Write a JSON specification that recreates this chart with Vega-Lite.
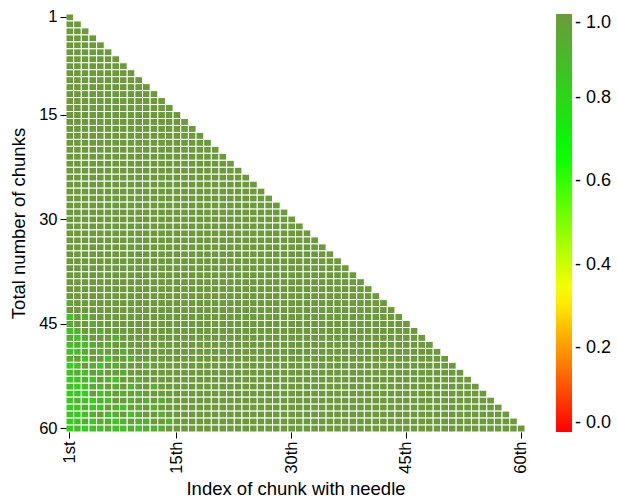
{
"$schema": "https://vega.github.io/schema/vega-lite/v6.json",
"width": 459, "height": 418,
"autosize": {"type": "none"},
"padding": {"left": 66, "top": 14, "right": 93, "bottom": 70},
"background": "white",
"config": {"view": {"stroke": null}, "font": "Liberation Sans",
 "axis": {"labelFont": "Liberation Sans", "titleFont": "Liberation Sans", "labelColor": "black", "titleColor": "black", "tickColor": "black", "labelFontSize": 16.5, "titleFontSize": 18.5, "titleFontWeight": "normal", "domain": false, "grid": false, "tickSize": 6},
 "legend": {"labelFont": "Liberation Sans", "labelColor": "black", "labelFontSize": 18}},
"data": {"values": [
{"t":1,"i":1,"v":1},
{"t":2,"i":1,"v":1},{"t":2,"i":2,"v":1},
{"t":3,"i":1,"v":1},{"t":3,"i":2,"v":1},{"t":3,"i":3,"v":1},
{"t":4,"i":1,"v":1},{"t":4,"i":2,"v":1},{"t":4,"i":3,"v":1},{"t":4,"i":4,"v":1},
{"t":5,"i":1,"v":1},{"t":5,"i":2,"v":1},{"t":5,"i":3,"v":1},{"t":5,"i":4,"v":1},{"t":5,"i":5,"v":1},
{"t":6,"i":1,"v":1},{"t":6,"i":2,"v":1},{"t":6,"i":3,"v":1},{"t":6,"i":4,"v":1},{"t":6,"i":5,"v":1},{"t":6,"i":6,"v":1},
{"t":7,"i":1,"v":1},{"t":7,"i":2,"v":1},{"t":7,"i":3,"v":1},{"t":7,"i":4,"v":1},{"t":7,"i":5,"v":1},{"t":7,"i":6,"v":1},{"t":7,"i":7,"v":1},
{"t":8,"i":1,"v":1},{"t":8,"i":2,"v":1},{"t":8,"i":3,"v":1},{"t":8,"i":4,"v":1},{"t":8,"i":5,"v":1},{"t":8,"i":6,"v":1},{"t":8,"i":7,"v":1},{"t":8,"i":8,"v":1},
{"t":9,"i":1,"v":1},{"t":9,"i":2,"v":1},{"t":9,"i":3,"v":1},{"t":9,"i":4,"v":1},{"t":9,"i":5,"v":1},{"t":9,"i":6,"v":1},{"t":9,"i":7,"v":1},{"t":9,"i":8,"v":1},{"t":9,"i":9,"v":1},
{"t":10,"i":1,"v":1},{"t":10,"i":2,"v":1},{"t":10,"i":3,"v":1},{"t":10,"i":4,"v":1},{"t":10,"i":5,"v":1},{"t":10,"i":6,"v":1},{"t":10,"i":7,"v":1},{"t":10,"i":8,"v":1},{"t":10,"i":9,"v":1},{"t":10,"i":10,"v":1},
{"t":11,"i":1,"v":1},{"t":11,"i":2,"v":1},{"t":11,"i":3,"v":1},{"t":11,"i":4,"v":1},{"t":11,"i":5,"v":1},{"t":11,"i":6,"v":1},{"t":11,"i":7,"v":1},{"t":11,"i":8,"v":1},{"t":11,"i":9,"v":1},{"t":11,"i":10,"v":1},{"t":11,"i":11,"v":1},
{"t":12,"i":1,"v":1},{"t":12,"i":2,"v":1},{"t":12,"i":3,"v":1},{"t":12,"i":4,"v":1},{"t":12,"i":5,"v":1},{"t":12,"i":6,"v":1},{"t":12,"i":7,"v":1},{"t":12,"i":8,"v":1},{"t":12,"i":9,"v":1},{"t":12,"i":10,"v":1},{"t":12,"i":11,"v":1},{"t":12,"i":12,"v":1},
{"t":13,"i":1,"v":1},{"t":13,"i":2,"v":1},{"t":13,"i":3,"v":1},{"t":13,"i":4,"v":1},{"t":13,"i":5,"v":1},{"t":13,"i":6,"v":1},{"t":13,"i":7,"v":1},{"t":13,"i":8,"v":1},{"t":13,"i":9,"v":1},{"t":13,"i":10,"v":1},{"t":13,"i":11,"v":1},{"t":13,"i":12,"v":1},{"t":13,"i":13,"v":1},
{"t":14,"i":1,"v":1},{"t":14,"i":2,"v":1},{"t":14,"i":3,"v":1},{"t":14,"i":4,"v":1},{"t":14,"i":5,"v":1},{"t":14,"i":6,"v":1},{"t":14,"i":7,"v":1},{"t":14,"i":8,"v":1},{"t":14,"i":9,"v":1},{"t":14,"i":10,"v":1},{"t":14,"i":11,"v":1},{"t":14,"i":12,"v":1},{"t":14,"i":13,"v":1},{"t":14,"i":14,"v":1},
{"t":15,"i":1,"v":1},{"t":15,"i":2,"v":1},{"t":15,"i":3,"v":1},{"t":15,"i":4,"v":1},{"t":15,"i":5,"v":1},{"t":15,"i":6,"v":1},{"t":15,"i":7,"v":1},{"t":15,"i":8,"v":1},{"t":15,"i":9,"v":1},{"t":15,"i":10,"v":1},{"t":15,"i":11,"v":1},{"t":15,"i":12,"v":1},{"t":15,"i":13,"v":1},{"t":15,"i":14,"v":1},{"t":15,"i":15,"v":1},
{"t":16,"i":1,"v":1},{"t":16,"i":2,"v":1},{"t":16,"i":3,"v":1},{"t":16,"i":4,"v":1},{"t":16,"i":5,"v":1},{"t":16,"i":6,"v":1},{"t":16,"i":7,"v":1},{"t":16,"i":8,"v":1},{"t":16,"i":9,"v":1},{"t":16,"i":10,"v":1},{"t":16,"i":11,"v":1},{"t":16,"i":12,"v":1},{"t":16,"i":13,"v":1},{"t":16,"i":14,"v":1},{"t":16,"i":15,"v":1},{"t":16,"i":16,"v":1},
{"t":17,"i":1,"v":1},{"t":17,"i":2,"v":1},{"t":17,"i":3,"v":1},{"t":17,"i":4,"v":1},{"t":17,"i":5,"v":1},{"t":17,"i":6,"v":1},{"t":17,"i":7,"v":1},{"t":17,"i":8,"v":1},{"t":17,"i":9,"v":1},{"t":17,"i":10,"v":1},{"t":17,"i":11,"v":1},{"t":17,"i":12,"v":1},{"t":17,"i":13,"v":1},{"t":17,"i":14,"v":1},{"t":17,"i":15,"v":1},{"t":17,"i":16,"v":1},{"t":17,"i":17,"v":1},
{"t":18,"i":1,"v":1},{"t":18,"i":2,"v":1},{"t":18,"i":3,"v":1},{"t":18,"i":4,"v":1},{"t":18,"i":5,"v":1},{"t":18,"i":6,"v":1},{"t":18,"i":7,"v":1},{"t":18,"i":8,"v":1},{"t":18,"i":9,"v":1},{"t":18,"i":10,"v":1},{"t":18,"i":11,"v":1},{"t":18,"i":12,"v":1},{"t":18,"i":13,"v":1},{"t":18,"i":14,"v":1},{"t":18,"i":15,"v":1},{"t":18,"i":16,"v":1},{"t":18,"i":17,"v":1},{"t":18,"i":18,"v":1},
{"t":19,"i":1,"v":1},{"t":19,"i":2,"v":1},{"t":19,"i":3,"v":1},{"t":19,"i":4,"v":1},{"t":19,"i":5,"v":1},{"t":19,"i":6,"v":1},{"t":19,"i":7,"v":1},{"t":19,"i":8,"v":1},{"t":19,"i":9,"v":1},{"t":19,"i":10,"v":1},{"t":19,"i":11,"v":1},{"t":19,"i":12,"v":1},{"t":19,"i":13,"v":1},{"t":19,"i":14,"v":1},{"t":19,"i":15,"v":1},{"t":19,"i":16,"v":1},{"t":19,"i":17,"v":1},{"t":19,"i":18,"v":1},{"t":19,"i":19,"v":1},
{"t":20,"i":1,"v":1},{"t":20,"i":2,"v":1},{"t":20,"i":3,"v":1},{"t":20,"i":4,"v":1},{"t":20,"i":5,"v":1},{"t":20,"i":6,"v":1},{"t":20,"i":7,"v":1},{"t":20,"i":8,"v":1},{"t":20,"i":9,"v":1},{"t":20,"i":10,"v":1},{"t":20,"i":11,"v":1},{"t":20,"i":12,"v":1},{"t":20,"i":13,"v":1},{"t":20,"i":14,"v":1},{"t":20,"i":15,"v":1},{"t":20,"i":16,"v":1},{"t":20,"i":17,"v":1},{"t":20,"i":18,"v":1},{"t":20,"i":19,"v":1},{"t":20,"i":20,"v":1},
{"t":21,"i":1,"v":1},{"t":21,"i":2,"v":1},{"t":21,"i":3,"v":1},{"t":21,"i":4,"v":1},{"t":21,"i":5,"v":1},{"t":21,"i":6,"v":1},{"t":21,"i":7,"v":1},{"t":21,"i":8,"v":1},{"t":21,"i":9,"v":1},{"t":21,"i":10,"v":1},{"t":21,"i":11,"v":1},{"t":21,"i":12,"v":1},{"t":21,"i":13,"v":1},{"t":21,"i":14,"v":1},{"t":21,"i":15,"v":1},{"t":21,"i":16,"v":1},{"t":21,"i":17,"v":1},{"t":21,"i":18,"v":1},{"t":21,"i":19,"v":1},{"t":21,"i":20,"v":1},{"t":21,"i":21,"v":1},
{"t":22,"i":1,"v":1},{"t":22,"i":2,"v":1},{"t":22,"i":3,"v":1},{"t":22,"i":4,"v":1},{"t":22,"i":5,"v":1},{"t":22,"i":6,"v":1},{"t":22,"i":7,"v":1},{"t":22,"i":8,"v":1},{"t":22,"i":9,"v":1},{"t":22,"i":10,"v":1},{"t":22,"i":11,"v":1},{"t":22,"i":12,"v":1},{"t":22,"i":13,"v":1},{"t":22,"i":14,"v":1},{"t":22,"i":15,"v":1},{"t":22,"i":16,"v":1},{"t":22,"i":17,"v":1},{"t":22,"i":18,"v":1},{"t":22,"i":19,"v":1},{"t":22,"i":20,"v":1},{"t":22,"i":21,"v":1},{"t":22,"i":22,"v":1},
{"t":23,"i":1,"v":1},{"t":23,"i":2,"v":1},{"t":23,"i":3,"v":1},{"t":23,"i":4,"v":1},{"t":23,"i":5,"v":1},{"t":23,"i":6,"v":1},{"t":23,"i":7,"v":1},{"t":23,"i":8,"v":1},{"t":23,"i":9,"v":1},{"t":23,"i":10,"v":1},{"t":23,"i":11,"v":1},{"t":23,"i":12,"v":1},{"t":23,"i":13,"v":1},{"t":23,"i":14,"v":1},{"t":23,"i":15,"v":1},{"t":23,"i":16,"v":1},{"t":23,"i":17,"v":1},{"t":23,"i":18,"v":1},{"t":23,"i":19,"v":1},{"t":23,"i":20,"v":1},{"t":23,"i":21,"v":1},{"t":23,"i":22,"v":1},{"t":23,"i":23,"v":1},
{"t":24,"i":1,"v":1},{"t":24,"i":2,"v":1},{"t":24,"i":3,"v":1},{"t":24,"i":4,"v":1},{"t":24,"i":5,"v":1},{"t":24,"i":6,"v":1},{"t":24,"i":7,"v":1},{"t":24,"i":8,"v":1},{"t":24,"i":9,"v":1},{"t":24,"i":10,"v":1},{"t":24,"i":11,"v":1},{"t":24,"i":12,"v":1},{"t":24,"i":13,"v":1},{"t":24,"i":14,"v":1},{"t":24,"i":15,"v":1},{"t":24,"i":16,"v":1},{"t":24,"i":17,"v":1},{"t":24,"i":18,"v":1},{"t":24,"i":19,"v":1},{"t":24,"i":20,"v":1},{"t":24,"i":21,"v":1},{"t":24,"i":22,"v":1},{"t":24,"i":23,"v":1},{"t":24,"i":24,"v":1},
{"t":25,"i":1,"v":1},{"t":25,"i":2,"v":1},{"t":25,"i":3,"v":1},{"t":25,"i":4,"v":1},{"t":25,"i":5,"v":1},{"t":25,"i":6,"v":1},{"t":25,"i":7,"v":1},{"t":25,"i":8,"v":1},{"t":25,"i":9,"v":1},{"t":25,"i":10,"v":1},{"t":25,"i":11,"v":1},{"t":25,"i":12,"v":1},{"t":25,"i":13,"v":1},{"t":25,"i":14,"v":1},{"t":25,"i":15,"v":1},{"t":25,"i":16,"v":1},{"t":25,"i":17,"v":1},{"t":25,"i":18,"v":1},{"t":25,"i":19,"v":1},{"t":25,"i":20,"v":1},{"t":25,"i":21,"v":1},{"t":25,"i":22,"v":1},{"t":25,"i":23,"v":1},{"t":25,"i":24,"v":1},{"t":25,"i":25,"v":1},
{"t":26,"i":1,"v":1},{"t":26,"i":2,"v":1},{"t":26,"i":3,"v":1},{"t":26,"i":4,"v":1},{"t":26,"i":5,"v":1},{"t":26,"i":6,"v":1},{"t":26,"i":7,"v":1},{"t":26,"i":8,"v":1},{"t":26,"i":9,"v":1},{"t":26,"i":10,"v":1},{"t":26,"i":11,"v":1},{"t":26,"i":12,"v":1},{"t":26,"i":13,"v":1},{"t":26,"i":14,"v":1},{"t":26,"i":15,"v":1},{"t":26,"i":16,"v":1},{"t":26,"i":17,"v":1},{"t":26,"i":18,"v":1},{"t":26,"i":19,"v":1},{"t":26,"i":20,"v":1},{"t":26,"i":21,"v":1},{"t":26,"i":22,"v":1},{"t":26,"i":23,"v":1},{"t":26,"i":24,"v":1},{"t":26,"i":25,"v":1},{"t":26,"i":26,"v":1},
{"t":27,"i":1,"v":1},{"t":27,"i":2,"v":1},{"t":27,"i":3,"v":1},{"t":27,"i":4,"v":1},{"t":27,"i":5,"v":1},{"t":27,"i":6,"v":1},{"t":27,"i":7,"v":1},{"t":27,"i":8,"v":1},{"t":27,"i":9,"v":1},{"t":27,"i":10,"v":1},{"t":27,"i":11,"v":1},{"t":27,"i":12,"v":1},{"t":27,"i":13,"v":1},{"t":27,"i":14,"v":1},{"t":27,"i":15,"v":1},{"t":27,"i":16,"v":1},{"t":27,"i":17,"v":1},{"t":27,"i":18,"v":1},{"t":27,"i":19,"v":1},{"t":27,"i":20,"v":1},{"t":27,"i":21,"v":1},{"t":27,"i":22,"v":1},{"t":27,"i":23,"v":1},{"t":27,"i":24,"v":1},{"t":27,"i":25,"v":1},{"t":27,"i":26,"v":1},{"t":27,"i":27,"v":1},
{"t":28,"i":1,"v":1},{"t":28,"i":2,"v":1},{"t":28,"i":3,"v":1},{"t":28,"i":4,"v":1},{"t":28,"i":5,"v":1},{"t":28,"i":6,"v":1},{"t":28,"i":7,"v":1},{"t":28,"i":8,"v":1},{"t":28,"i":9,"v":1},{"t":28,"i":10,"v":1},{"t":28,"i":11,"v":1},{"t":28,"i":12,"v":1},{"t":28,"i":13,"v":1},{"t":28,"i":14,"v":1},{"t":28,"i":15,"v":1},{"t":28,"i":16,"v":1},{"t":28,"i":17,"v":1},{"t":28,"i":18,"v":1},{"t":28,"i":19,"v":1},{"t":28,"i":20,"v":1},{"t":28,"i":21,"v":1},{"t":28,"i":22,"v":1},{"t":28,"i":23,"v":1},{"t":28,"i":24,"v":1},{"t":28,"i":25,"v":1},{"t":28,"i":26,"v":1},{"t":28,"i":27,"v":1},{"t":28,"i":28,"v":1},
{"t":29,"i":1,"v":1},{"t":29,"i":2,"v":1},{"t":29,"i":3,"v":1},{"t":29,"i":4,"v":1},{"t":29,"i":5,"v":1},{"t":29,"i":6,"v":1},{"t":29,"i":7,"v":1},{"t":29,"i":8,"v":1},{"t":29,"i":9,"v":1},{"t":29,"i":10,"v":1},{"t":29,"i":11,"v":1},{"t":29,"i":12,"v":1},{"t":29,"i":13,"v":1},{"t":29,"i":14,"v":1},{"t":29,"i":15,"v":1},{"t":29,"i":16,"v":1},{"t":29,"i":17,"v":1},{"t":29,"i":18,"v":1},{"t":29,"i":19,"v":1},{"t":29,"i":20,"v":1},{"t":29,"i":21,"v":1},{"t":29,"i":22,"v":1},{"t":29,"i":23,"v":1},{"t":29,"i":24,"v":1},{"t":29,"i":25,"v":1},{"t":29,"i":26,"v":1},{"t":29,"i":27,"v":1},{"t":29,"i":28,"v":1},{"t":29,"i":29,"v":1},
{"t":30,"i":1,"v":1},{"t":30,"i":2,"v":1},{"t":30,"i":3,"v":1},{"t":30,"i":4,"v":1},{"t":30,"i":5,"v":1},{"t":30,"i":6,"v":1},{"t":30,"i":7,"v":1},{"t":30,"i":8,"v":1},{"t":30,"i":9,"v":1},{"t":30,"i":10,"v":1},{"t":30,"i":11,"v":1},{"t":30,"i":12,"v":1},{"t":30,"i":13,"v":1},{"t":30,"i":14,"v":1},{"t":30,"i":15,"v":1},{"t":30,"i":16,"v":1},{"t":30,"i":17,"v":1},{"t":30,"i":18,"v":1},{"t":30,"i":19,"v":1},{"t":30,"i":20,"v":1},{"t":30,"i":21,"v":1},{"t":30,"i":22,"v":1},{"t":30,"i":23,"v":1},{"t":30,"i":24,"v":1},{"t":30,"i":25,"v":1},{"t":30,"i":26,"v":1},{"t":30,"i":27,"v":1},{"t":30,"i":28,"v":1},{"t":30,"i":29,"v":1},{"t":30,"i":30,"v":1},
{"t":31,"i":1,"v":1},{"t":31,"i":2,"v":1},{"t":31,"i":3,"v":1},{"t":31,"i":4,"v":1},{"t":31,"i":5,"v":1},{"t":31,"i":6,"v":1},{"t":31,"i":7,"v":1},{"t":31,"i":8,"v":1},{"t":31,"i":9,"v":1},{"t":31,"i":10,"v":1},{"t":31,"i":11,"v":1},{"t":31,"i":12,"v":1},{"t":31,"i":13,"v":1},{"t":31,"i":14,"v":1},{"t":31,"i":15,"v":1},{"t":31,"i":16,"v":1},{"t":31,"i":17,"v":1},{"t":31,"i":18,"v":1},{"t":31,"i":19,"v":1},{"t":31,"i":20,"v":1},{"t":31,"i":21,"v":1},{"t":31,"i":22,"v":1},{"t":31,"i":23,"v":1},{"t":31,"i":24,"v":1},{"t":31,"i":25,"v":1},{"t":31,"i":26,"v":1},{"t":31,"i":27,"v":1},{"t":31,"i":28,"v":1},{"t":31,"i":29,"v":1},{"t":31,"i":30,"v":1},{"t":31,"i":31,"v":1},
{"t":32,"i":1,"v":1},{"t":32,"i":2,"v":1},{"t":32,"i":3,"v":1},{"t":32,"i":4,"v":1},{"t":32,"i":5,"v":1},{"t":32,"i":6,"v":1},{"t":32,"i":7,"v":1},{"t":32,"i":8,"v":1},{"t":32,"i":9,"v":1},{"t":32,"i":10,"v":1},{"t":32,"i":11,"v":1},{"t":32,"i":12,"v":1},{"t":32,"i":13,"v":1},{"t":32,"i":14,"v":1},{"t":32,"i":15,"v":1},{"t":32,"i":16,"v":1},{"t":32,"i":17,"v":1},{"t":32,"i":18,"v":1},{"t":32,"i":19,"v":1},{"t":32,"i":20,"v":1},{"t":32,"i":21,"v":1},{"t":32,"i":22,"v":1},{"t":32,"i":23,"v":1},{"t":32,"i":24,"v":1},{"t":32,"i":25,"v":1},{"t":32,"i":26,"v":1},{"t":32,"i":27,"v":1},{"t":32,"i":28,"v":1},{"t":32,"i":29,"v":1},{"t":32,"i":30,"v":1},{"t":32,"i":31,"v":1},{"t":32,"i":32,"v":1},
{"t":33,"i":1,"v":1},{"t":33,"i":2,"v":1},{"t":33,"i":3,"v":1},{"t":33,"i":4,"v":1},{"t":33,"i":5,"v":1},{"t":33,"i":6,"v":1},{"t":33,"i":7,"v":1},{"t":33,"i":8,"v":1},{"t":33,"i":9,"v":1},{"t":33,"i":10,"v":1},{"t":33,"i":11,"v":1},{"t":33,"i":12,"v":1},{"t":33,"i":13,"v":1},{"t":33,"i":14,"v":1},{"t":33,"i":15,"v":1},{"t":33,"i":16,"v":1},{"t":33,"i":17,"v":1},{"t":33,"i":18,"v":1},{"t":33,"i":19,"v":1},{"t":33,"i":20,"v":1},{"t":33,"i":21,"v":1},{"t":33,"i":22,"v":1},{"t":33,"i":23,"v":1},{"t":33,"i":24,"v":1},{"t":33,"i":25,"v":1},{"t":33,"i":26,"v":1},{"t":33,"i":27,"v":1},{"t":33,"i":28,"v":1},{"t":33,"i":29,"v":1},{"t":33,"i":30,"v":1},{"t":33,"i":31,"v":1},{"t":33,"i":32,"v":1},{"t":33,"i":33,"v":1},
{"t":34,"i":1,"v":1},{"t":34,"i":2,"v":1},{"t":34,"i":3,"v":1},{"t":34,"i":4,"v":1},{"t":34,"i":5,"v":1},{"t":34,"i":6,"v":1},{"t":34,"i":7,"v":1},{"t":34,"i":8,"v":1},{"t":34,"i":9,"v":1},{"t":34,"i":10,"v":1},{"t":34,"i":11,"v":1},{"t":34,"i":12,"v":1},{"t":34,"i":13,"v":1},{"t":34,"i":14,"v":1},{"t":34,"i":15,"v":1},{"t":34,"i":16,"v":1},{"t":34,"i":17,"v":1},{"t":34,"i":18,"v":1},{"t":34,"i":19,"v":1},{"t":34,"i":20,"v":1},{"t":34,"i":21,"v":1},{"t":34,"i":22,"v":1},{"t":34,"i":23,"v":1},{"t":34,"i":24,"v":1},{"t":34,"i":25,"v":1},{"t":34,"i":26,"v":1},{"t":34,"i":27,"v":1},{"t":34,"i":28,"v":1},{"t":34,"i":29,"v":1},{"t":34,"i":30,"v":1},{"t":34,"i":31,"v":1},{"t":34,"i":32,"v":1},{"t":34,"i":33,"v":1},{"t":34,"i":34,"v":1},
{"t":35,"i":1,"v":1},{"t":35,"i":2,"v":1},{"t":35,"i":3,"v":1},{"t":35,"i":4,"v":1},{"t":35,"i":5,"v":1},{"t":35,"i":6,"v":1},{"t":35,"i":7,"v":1},{"t":35,"i":8,"v":1},{"t":35,"i":9,"v":1},{"t":35,"i":10,"v":1},{"t":35,"i":11,"v":1},{"t":35,"i":12,"v":1},{"t":35,"i":13,"v":1},{"t":35,"i":14,"v":1},{"t":35,"i":15,"v":1},{"t":35,"i":16,"v":1},{"t":35,"i":17,"v":1},{"t":35,"i":18,"v":1},{"t":35,"i":19,"v":1},{"t":35,"i":20,"v":1},{"t":35,"i":21,"v":1},{"t":35,"i":22,"v":1},{"t":35,"i":23,"v":1},{"t":35,"i":24,"v":1},{"t":35,"i":25,"v":1},{"t":35,"i":26,"v":1},{"t":35,"i":27,"v":1},{"t":35,"i":28,"v":1},{"t":35,"i":29,"v":1},{"t":35,"i":30,"v":1},{"t":35,"i":31,"v":1},{"t":35,"i":32,"v":1},{"t":35,"i":33,"v":1},{"t":35,"i":34,"v":1},{"t":35,"i":35,"v":1},
{"t":36,"i":1,"v":1},{"t":36,"i":2,"v":1},{"t":36,"i":3,"v":1},{"t":36,"i":4,"v":1},{"t":36,"i":5,"v":1},{"t":36,"i":6,"v":1},{"t":36,"i":7,"v":1},{"t":36,"i":8,"v":1},{"t":36,"i":9,"v":1},{"t":36,"i":10,"v":1},{"t":36,"i":11,"v":1},{"t":36,"i":12,"v":1},{"t":36,"i":13,"v":1},{"t":36,"i":14,"v":1},{"t":36,"i":15,"v":1},{"t":36,"i":16,"v":1},{"t":36,"i":17,"v":1},{"t":36,"i":18,"v":1},{"t":36,"i":19,"v":1},{"t":36,"i":20,"v":1},{"t":36,"i":21,"v":1},{"t":36,"i":22,"v":1},{"t":36,"i":23,"v":1},{"t":36,"i":24,"v":1},{"t":36,"i":25,"v":1},{"t":36,"i":26,"v":1},{"t":36,"i":27,"v":1},{"t":36,"i":28,"v":1},{"t":36,"i":29,"v":1},{"t":36,"i":30,"v":1},{"t":36,"i":31,"v":1},{"t":36,"i":32,"v":1},{"t":36,"i":33,"v":1},{"t":36,"i":34,"v":1},{"t":36,"i":35,"v":1},{"t":36,"i":36,"v":1},
{"t":37,"i":1,"v":1},{"t":37,"i":2,"v":1},{"t":37,"i":3,"v":1},{"t":37,"i":4,"v":1},{"t":37,"i":5,"v":1},{"t":37,"i":6,"v":1},{"t":37,"i":7,"v":1},{"t":37,"i":8,"v":1},{"t":37,"i":9,"v":1},{"t":37,"i":10,"v":1},{"t":37,"i":11,"v":1},{"t":37,"i":12,"v":1},{"t":37,"i":13,"v":1},{"t":37,"i":14,"v":1},{"t":37,"i":15,"v":1},{"t":37,"i":16,"v":1},{"t":37,"i":17,"v":1},{"t":37,"i":18,"v":1},{"t":37,"i":19,"v":1},{"t":37,"i":20,"v":1},{"t":37,"i":21,"v":1},{"t":37,"i":22,"v":1},{"t":37,"i":23,"v":1},{"t":37,"i":24,"v":1},{"t":37,"i":25,"v":1},{"t":37,"i":26,"v":1},{"t":37,"i":27,"v":1},{"t":37,"i":28,"v":1},{"t":37,"i":29,"v":1},{"t":37,"i":30,"v":1},{"t":37,"i":31,"v":1},{"t":37,"i":32,"v":1},{"t":37,"i":33,"v":1},{"t":37,"i":34,"v":1},{"t":37,"i":35,"v":1},{"t":37,"i":36,"v":1},{"t":37,"i":37,"v":1},
{"t":38,"i":1,"v":1},{"t":38,"i":2,"v":1},{"t":38,"i":3,"v":1},{"t":38,"i":4,"v":1},{"t":38,"i":5,"v":1},{"t":38,"i":6,"v":1},{"t":38,"i":7,"v":1},{"t":38,"i":8,"v":1},{"t":38,"i":9,"v":1},{"t":38,"i":10,"v":1},{"t":38,"i":11,"v":1},{"t":38,"i":12,"v":1},{"t":38,"i":13,"v":1},{"t":38,"i":14,"v":1},{"t":38,"i":15,"v":1},{"t":38,"i":16,"v":1},{"t":38,"i":17,"v":1},{"t":38,"i":18,"v":1},{"t":38,"i":19,"v":1},{"t":38,"i":20,"v":1},{"t":38,"i":21,"v":1},{"t":38,"i":22,"v":1},{"t":38,"i":23,"v":1},{"t":38,"i":24,"v":1},{"t":38,"i":25,"v":1},{"t":38,"i":26,"v":1},{"t":38,"i":27,"v":1},{"t":38,"i":28,"v":1},{"t":38,"i":29,"v":1},{"t":38,"i":30,"v":1},{"t":38,"i":31,"v":1},{"t":38,"i":32,"v":1},{"t":38,"i":33,"v":1},{"t":38,"i":34,"v":1},{"t":38,"i":35,"v":1},{"t":38,"i":36,"v":1},{"t":38,"i":37,"v":1},{"t":38,"i":38,"v":1},
{"t":39,"i":1,"v":1},{"t":39,"i":2,"v":1},{"t":39,"i":3,"v":1},{"t":39,"i":4,"v":1},{"t":39,"i":5,"v":1},{"t":39,"i":6,"v":1},{"t":39,"i":7,"v":1},{"t":39,"i":8,"v":1},{"t":39,"i":9,"v":1},{"t":39,"i":10,"v":1},{"t":39,"i":11,"v":1},{"t":39,"i":12,"v":1},{"t":39,"i":13,"v":1},{"t":39,"i":14,"v":1},{"t":39,"i":15,"v":1},{"t":39,"i":16,"v":1},{"t":39,"i":17,"v":1},{"t":39,"i":18,"v":1},{"t":39,"i":19,"v":1},{"t":39,"i":20,"v":1},{"t":39,"i":21,"v":1},{"t":39,"i":22,"v":1},{"t":39,"i":23,"v":1},{"t":39,"i":24,"v":1},{"t":39,"i":25,"v":1},{"t":39,"i":26,"v":1},{"t":39,"i":27,"v":1},{"t":39,"i":28,"v":1},{"t":39,"i":29,"v":1},{"t":39,"i":30,"v":1},{"t":39,"i":31,"v":1},{"t":39,"i":32,"v":1},{"t":39,"i":33,"v":1},{"t":39,"i":34,"v":1},{"t":39,"i":35,"v":1},{"t":39,"i":36,"v":1},{"t":39,"i":37,"v":1},{"t":39,"i":38,"v":1},{"t":39,"i":39,"v":1},
{"t":40,"i":1,"v":1},{"t":40,"i":2,"v":1},{"t":40,"i":3,"v":1},{"t":40,"i":4,"v":1},{"t":40,"i":5,"v":1},{"t":40,"i":6,"v":1},{"t":40,"i":7,"v":1},{"t":40,"i":8,"v":1},{"t":40,"i":9,"v":1},{"t":40,"i":10,"v":1},{"t":40,"i":11,"v":1},{"t":40,"i":12,"v":1},{"t":40,"i":13,"v":1},{"t":40,"i":14,"v":1},{"t":40,"i":15,"v":1},{"t":40,"i":16,"v":1},{"t":40,"i":17,"v":1},{"t":40,"i":18,"v":1},{"t":40,"i":19,"v":1},{"t":40,"i":20,"v":1},{"t":40,"i":21,"v":1},{"t":40,"i":22,"v":1},{"t":40,"i":23,"v":1},{"t":40,"i":24,"v":1},{"t":40,"i":25,"v":1},{"t":40,"i":26,"v":1},{"t":40,"i":27,"v":1},{"t":40,"i":28,"v":1},{"t":40,"i":29,"v":1},{"t":40,"i":30,"v":1},{"t":40,"i":31,"v":1},{"t":40,"i":32,"v":1},{"t":40,"i":33,"v":1},{"t":40,"i":34,"v":1},{"t":40,"i":35,"v":1},{"t":40,"i":36,"v":1},{"t":40,"i":37,"v":1},{"t":40,"i":38,"v":1},{"t":40,"i":39,"v":1},{"t":40,"i":40,"v":1},
{"t":41,"i":1,"v":1},{"t":41,"i":2,"v":1},{"t":41,"i":3,"v":1},{"t":41,"i":4,"v":1},{"t":41,"i":5,"v":1},{"t":41,"i":6,"v":1},{"t":41,"i":7,"v":1},{"t":41,"i":8,"v":1},{"t":41,"i":9,"v":1},{"t":41,"i":10,"v":1},{"t":41,"i":11,"v":1},{"t":41,"i":12,"v":1},{"t":41,"i":13,"v":1},{"t":41,"i":14,"v":1},{"t":41,"i":15,"v":1},{"t":41,"i":16,"v":1},{"t":41,"i":17,"v":1},{"t":41,"i":18,"v":1},{"t":41,"i":19,"v":1},{"t":41,"i":20,"v":1},{"t":41,"i":21,"v":1},{"t":41,"i":22,"v":1},{"t":41,"i":23,"v":1},{"t":41,"i":24,"v":1},{"t":41,"i":25,"v":1},{"t":41,"i":26,"v":1},{"t":41,"i":27,"v":1},{"t":41,"i":28,"v":1},{"t":41,"i":29,"v":1},{"t":41,"i":30,"v":1},{"t":41,"i":31,"v":1},{"t":41,"i":32,"v":1},{"t":41,"i":33,"v":1},{"t":41,"i":34,"v":1},{"t":41,"i":35,"v":1},{"t":41,"i":36,"v":1},{"t":41,"i":37,"v":1},{"t":41,"i":38,"v":1},{"t":41,"i":39,"v":1},{"t":41,"i":40,"v":1},{"t":41,"i":41,"v":1},
{"t":42,"i":1,"v":0.95},{"t":42,"i":2,"v":1},{"t":42,"i":3,"v":1},{"t":42,"i":4,"v":1},{"t":42,"i":5,"v":1},{"t":42,"i":6,"v":1},{"t":42,"i":7,"v":1},{"t":42,"i":8,"v":1},{"t":42,"i":9,"v":1},{"t":42,"i":10,"v":1},{"t":42,"i":11,"v":1},{"t":42,"i":12,"v":1},{"t":42,"i":13,"v":1},{"t":42,"i":14,"v":1},{"t":42,"i":15,"v":1},{"t":42,"i":16,"v":1},{"t":42,"i":17,"v":1},{"t":42,"i":18,"v":1},{"t":42,"i":19,"v":1},{"t":42,"i":20,"v":1},{"t":42,"i":21,"v":1},{"t":42,"i":22,"v":1},{"t":42,"i":23,"v":1},{"t":42,"i":24,"v":1},{"t":42,"i":25,"v":1},{"t":42,"i":26,"v":1},{"t":42,"i":27,"v":1},{"t":42,"i":28,"v":1},{"t":42,"i":29,"v":1},{"t":42,"i":30,"v":1},{"t":42,"i":31,"v":1},{"t":42,"i":32,"v":1},{"t":42,"i":33,"v":1},{"t":42,"i":34,"v":1},{"t":42,"i":35,"v":1},{"t":42,"i":36,"v":1},{"t":42,"i":37,"v":1},{"t":42,"i":38,"v":1},{"t":42,"i":39,"v":1},{"t":42,"i":40,"v":1},{"t":42,"i":41,"v":1},{"t":42,"i":42,"v":1},
{"t":43,"i":1,"v":1},{"t":43,"i":2,"v":1},{"t":43,"i":3,"v":1},{"t":43,"i":4,"v":1},{"t":43,"i":5,"v":1},{"t":43,"i":6,"v":1},{"t":43,"i":7,"v":1},{"t":43,"i":8,"v":1},{"t":43,"i":9,"v":1},{"t":43,"i":10,"v":1},{"t":43,"i":11,"v":1},{"t":43,"i":12,"v":1},{"t":43,"i":13,"v":1},{"t":43,"i":14,"v":1},{"t":43,"i":15,"v":1},{"t":43,"i":16,"v":1},{"t":43,"i":17,"v":1},{"t":43,"i":18,"v":1},{"t":43,"i":19,"v":1},{"t":43,"i":20,"v":1},{"t":43,"i":21,"v":1},{"t":43,"i":22,"v":1},{"t":43,"i":23,"v":1},{"t":43,"i":24,"v":1},{"t":43,"i":25,"v":1},{"t":43,"i":26,"v":1},{"t":43,"i":27,"v":1},{"t":43,"i":28,"v":1},{"t":43,"i":29,"v":1},{"t":43,"i":30,"v":1},{"t":43,"i":31,"v":1},{"t":43,"i":32,"v":1},{"t":43,"i":33,"v":1},{"t":43,"i":34,"v":1},{"t":43,"i":35,"v":1},{"t":43,"i":36,"v":1},{"t":43,"i":37,"v":1},{"t":43,"i":38,"v":1},{"t":43,"i":39,"v":1},{"t":43,"i":40,"v":1},{"t":43,"i":41,"v":1},{"t":43,"i":42,"v":1},{"t":43,"i":43,"v":1},
{"t":44,"i":1,"v":0.87},{"t":44,"i":2,"v":1},{"t":44,"i":3,"v":0.93},{"t":44,"i":4,"v":1},{"t":44,"i":5,"v":1},{"t":44,"i":6,"v":1},{"t":44,"i":7,"v":1},{"t":44,"i":8,"v":1},{"t":44,"i":9,"v":1},{"t":44,"i":10,"v":1},{"t":44,"i":11,"v":1},{"t":44,"i":12,"v":1},{"t":44,"i":13,"v":1},{"t":44,"i":14,"v":1},{"t":44,"i":15,"v":1},{"t":44,"i":16,"v":1},{"t":44,"i":17,"v":1},{"t":44,"i":18,"v":1},{"t":44,"i":19,"v":1},{"t":44,"i":20,"v":1},{"t":44,"i":21,"v":1},{"t":44,"i":22,"v":1},{"t":44,"i":23,"v":1},{"t":44,"i":24,"v":1},{"t":44,"i":25,"v":1},{"t":44,"i":26,"v":1},{"t":44,"i":27,"v":1},{"t":44,"i":28,"v":1},{"t":44,"i":29,"v":1},{"t":44,"i":30,"v":1},{"t":44,"i":31,"v":1},{"t":44,"i":32,"v":1},{"t":44,"i":33,"v":1},{"t":44,"i":34,"v":1},{"t":44,"i":35,"v":1},{"t":44,"i":36,"v":1},{"t":44,"i":37,"v":1},{"t":44,"i":38,"v":1},{"t":44,"i":39,"v":1},{"t":44,"i":40,"v":1},{"t":44,"i":41,"v":1},{"t":44,"i":42,"v":1},{"t":44,"i":43,"v":1},{"t":44,"i":44,"v":1},
{"t":45,"i":1,"v":0.93},{"t":45,"i":2,"v":1},{"t":45,"i":3,"v":1},{"t":45,"i":4,"v":0.93},{"t":45,"i":5,"v":1},{"t":45,"i":6,"v":1},{"t":45,"i":7,"v":1},{"t":45,"i":8,"v":1},{"t":45,"i":9,"v":1},{"t":45,"i":10,"v":1},{"t":45,"i":11,"v":1},{"t":45,"i":12,"v":1},{"t":45,"i":13,"v":1},{"t":45,"i":14,"v":1},{"t":45,"i":15,"v":1},{"t":45,"i":16,"v":1},{"t":45,"i":17,"v":1},{"t":45,"i":18,"v":1},{"t":45,"i":19,"v":1},{"t":45,"i":20,"v":1},{"t":45,"i":21,"v":1},{"t":45,"i":22,"v":1},{"t":45,"i":23,"v":1},{"t":45,"i":24,"v":1},{"t":45,"i":25,"v":1},{"t":45,"i":26,"v":1},{"t":45,"i":27,"v":1},{"t":45,"i":28,"v":1},{"t":45,"i":29,"v":1},{"t":45,"i":30,"v":1},{"t":45,"i":31,"v":1},{"t":45,"i":32,"v":1},{"t":45,"i":33,"v":1},{"t":45,"i":34,"v":1},{"t":45,"i":35,"v":1},{"t":45,"i":36,"v":1},{"t":45,"i":37,"v":1},{"t":45,"i":38,"v":1},{"t":45,"i":39,"v":1},{"t":45,"i":40,"v":1},{"t":45,"i":41,"v":1},{"t":45,"i":42,"v":1},{"t":45,"i":43,"v":1},{"t":45,"i":44,"v":1},{"t":45,"i":45,"v":1},
{"t":46,"i":1,"v":0.87},{"t":46,"i":2,"v":0.93},{"t":46,"i":3,"v":1},{"t":46,"i":4,"v":1},{"t":46,"i":5,"v":0.93},{"t":46,"i":6,"v":1},{"t":46,"i":7,"v":1},{"t":46,"i":8,"v":1},{"t":46,"i":9,"v":1},{"t":46,"i":10,"v":1},{"t":46,"i":11,"v":1},{"t":46,"i":12,"v":1},{"t":46,"i":13,"v":1},{"t":46,"i":14,"v":1},{"t":46,"i":15,"v":1},{"t":46,"i":16,"v":1},{"t":46,"i":17,"v":1},{"t":46,"i":18,"v":1},{"t":46,"i":19,"v":1},{"t":46,"i":20,"v":1},{"t":46,"i":21,"v":1},{"t":46,"i":22,"v":1},{"t":46,"i":23,"v":1},{"t":46,"i":24,"v":1},{"t":46,"i":25,"v":1},{"t":46,"i":26,"v":1},{"t":46,"i":27,"v":1},{"t":46,"i":28,"v":1},{"t":46,"i":29,"v":1},{"t":46,"i":30,"v":1},{"t":46,"i":31,"v":1},{"t":46,"i":32,"v":1},{"t":46,"i":33,"v":1},{"t":46,"i":34,"v":1},{"t":46,"i":35,"v":1},{"t":46,"i":36,"v":1},{"t":46,"i":37,"v":1},{"t":46,"i":38,"v":1},{"t":46,"i":39,"v":1},{"t":46,"i":40,"v":1},{"t":46,"i":41,"v":1},{"t":46,"i":42,"v":1},{"t":46,"i":43,"v":1},{"t":46,"i":44,"v":1},{"t":46,"i":45,"v":1},{"t":46,"i":46,"v":1},
{"t":47,"i":1,"v":0.93},{"t":47,"i":2,"v":0.87},{"t":47,"i":3,"v":0.93},{"t":47,"i":4,"v":1},{"t":47,"i":5,"v":1},{"t":47,"i":6,"v":1},{"t":47,"i":7,"v":0.93},{"t":47,"i":8,"v":1},{"t":47,"i":9,"v":1},{"t":47,"i":10,"v":1},{"t":47,"i":11,"v":1},{"t":47,"i":12,"v":1},{"t":47,"i":13,"v":1},{"t":47,"i":14,"v":1},{"t":47,"i":15,"v":1},{"t":47,"i":16,"v":1},{"t":47,"i":17,"v":1},{"t":47,"i":18,"v":1},{"t":47,"i":19,"v":1},{"t":47,"i":20,"v":1},{"t":47,"i":21,"v":1},{"t":47,"i":22,"v":1},{"t":47,"i":23,"v":1},{"t":47,"i":24,"v":1},{"t":47,"i":25,"v":1},{"t":47,"i":26,"v":1},{"t":47,"i":27,"v":1},{"t":47,"i":28,"v":1},{"t":47,"i":29,"v":1},{"t":47,"i":30,"v":1},{"t":47,"i":31,"v":1},{"t":47,"i":32,"v":1},{"t":47,"i":33,"v":1},{"t":47,"i":34,"v":1},{"t":47,"i":35,"v":1},{"t":47,"i":36,"v":1},{"t":47,"i":37,"v":1},{"t":47,"i":38,"v":1},{"t":47,"i":39,"v":1},{"t":47,"i":40,"v":1},{"t":47,"i":41,"v":1},{"t":47,"i":42,"v":1},{"t":47,"i":43,"v":1},{"t":47,"i":44,"v":1},{"t":47,"i":45,"v":1},{"t":47,"i":46,"v":1},{"t":47,"i":47,"v":1},
{"t":48,"i":1,"v":0.87},{"t":48,"i":2,"v":0.93},{"t":48,"i":3,"v":0.87},{"t":48,"i":4,"v":0.93},{"t":48,"i":5,"v":1},{"t":48,"i":6,"v":0.93},{"t":48,"i":7,"v":1},{"t":48,"i":8,"v":1},{"t":48,"i":9,"v":1},{"t":48,"i":10,"v":1},{"t":48,"i":11,"v":1},{"t":48,"i":12,"v":1},{"t":48,"i":13,"v":1},{"t":48,"i":14,"v":1},{"t":48,"i":15,"v":1},{"t":48,"i":16,"v":1},{"t":48,"i":17,"v":1},{"t":48,"i":18,"v":1},{"t":48,"i":19,"v":1},{"t":48,"i":20,"v":1},{"t":48,"i":21,"v":1},{"t":48,"i":22,"v":1},{"t":48,"i":23,"v":1},{"t":48,"i":24,"v":1},{"t":48,"i":25,"v":1},{"t":48,"i":26,"v":1},{"t":48,"i":27,"v":1},{"t":48,"i":28,"v":1},{"t":48,"i":29,"v":1},{"t":48,"i":30,"v":1},{"t":48,"i":31,"v":1},{"t":48,"i":32,"v":1},{"t":48,"i":33,"v":1},{"t":48,"i":34,"v":1},{"t":48,"i":35,"v":1},{"t":48,"i":36,"v":1},{"t":48,"i":37,"v":1},{"t":48,"i":38,"v":1},{"t":48,"i":39,"v":1},{"t":48,"i":40,"v":1},{"t":48,"i":41,"v":1},{"t":48,"i":42,"v":1},{"t":48,"i":43,"v":1},{"t":48,"i":44,"v":1},{"t":48,"i":45,"v":1},{"t":48,"i":46,"v":1},{"t":48,"i":47,"v":1},{"t":48,"i":48,"v":1},
{"t":49,"i":1,"v":0.87},{"t":49,"i":2,"v":0.87},{"t":49,"i":3,"v":0.93},{"t":49,"i":4,"v":1},{"t":49,"i":5,"v":0.93},{"t":49,"i":6,"v":1},{"t":49,"i":7,"v":1},{"t":49,"i":8,"v":0.93},{"t":49,"i":9,"v":1},{"t":49,"i":10,"v":1},{"t":49,"i":11,"v":1},{"t":49,"i":12,"v":1},{"t":49,"i":13,"v":1},{"t":49,"i":14,"v":1},{"t":49,"i":15,"v":1},{"t":49,"i":16,"v":1},{"t":49,"i":17,"v":1},{"t":49,"i":18,"v":1},{"t":49,"i":19,"v":1},{"t":49,"i":20,"v":1},{"t":49,"i":21,"v":1},{"t":49,"i":22,"v":1},{"t":49,"i":23,"v":1},{"t":49,"i":24,"v":1},{"t":49,"i":25,"v":1},{"t":49,"i":26,"v":1},{"t":49,"i":27,"v":1},{"t":49,"i":28,"v":1},{"t":49,"i":29,"v":1},{"t":49,"i":30,"v":1},{"t":49,"i":31,"v":1},{"t":49,"i":32,"v":1},{"t":49,"i":33,"v":1},{"t":49,"i":34,"v":1},{"t":49,"i":35,"v":1},{"t":49,"i":36,"v":1},{"t":49,"i":37,"v":1},{"t":49,"i":38,"v":1},{"t":49,"i":39,"v":1},{"t":49,"i":40,"v":1},{"t":49,"i":41,"v":1},{"t":49,"i":42,"v":1},{"t":49,"i":43,"v":1},{"t":49,"i":44,"v":1},{"t":49,"i":45,"v":1},{"t":49,"i":46,"v":1},{"t":49,"i":47,"v":1},{"t":49,"i":48,"v":1},{"t":49,"i":49,"v":1},
{"t":50,"i":1,"v":0.93},{"t":50,"i":2,"v":1},{"t":50,"i":3,"v":0.87},{"t":50,"i":4,"v":1},{"t":50,"i":5,"v":1},{"t":50,"i":6,"v":0.87},{"t":50,"i":7,"v":1},{"t":50,"i":8,"v":1},{"t":50,"i":9,"v":0.93},{"t":50,"i":10,"v":1},{"t":50,"i":11,"v":1},{"t":50,"i":12,"v":1},{"t":50,"i":13,"v":1},{"t":50,"i":14,"v":1},{"t":50,"i":15,"v":1},{"t":50,"i":16,"v":1},{"t":50,"i":17,"v":1},{"t":50,"i":18,"v":1},{"t":50,"i":19,"v":1},{"t":50,"i":20,"v":1},{"t":50,"i":21,"v":1},{"t":50,"i":22,"v":1},{"t":50,"i":23,"v":1},{"t":50,"i":24,"v":1},{"t":50,"i":25,"v":1},{"t":50,"i":26,"v":1},{"t":50,"i":27,"v":1},{"t":50,"i":28,"v":1},{"t":50,"i":29,"v":1},{"t":50,"i":30,"v":1},{"t":50,"i":31,"v":1},{"t":50,"i":32,"v":1},{"t":50,"i":33,"v":1},{"t":50,"i":34,"v":1},{"t":50,"i":35,"v":1},{"t":50,"i":36,"v":1},{"t":50,"i":37,"v":1},{"t":50,"i":38,"v":1},{"t":50,"i":39,"v":1},{"t":50,"i":40,"v":1},{"t":50,"i":41,"v":1},{"t":50,"i":42,"v":1},{"t":50,"i":43,"v":1},{"t":50,"i":44,"v":1},{"t":50,"i":45,"v":1},{"t":50,"i":46,"v":1},{"t":50,"i":47,"v":1},{"t":50,"i":48,"v":1},{"t":50,"i":49,"v":1},{"t":50,"i":50,"v":1},
{"t":51,"i":1,"v":0.82},{"t":51,"i":2,"v":0.87},{"t":51,"i":3,"v":1},{"t":51,"i":4,"v":0.93},{"t":51,"i":5,"v":0.87},{"t":51,"i":6,"v":1},{"t":51,"i":7,"v":0.93},{"t":51,"i":8,"v":1},{"t":51,"i":9,"v":1},{"t":51,"i":10,"v":1},{"t":51,"i":11,"v":0.93},{"t":51,"i":12,"v":1},{"t":51,"i":13,"v":1},{"t":51,"i":14,"v":1},{"t":51,"i":15,"v":1},{"t":51,"i":16,"v":1},{"t":51,"i":17,"v":1},{"t":51,"i":18,"v":1},{"t":51,"i":19,"v":1},{"t":51,"i":20,"v":1},{"t":51,"i":21,"v":1},{"t":51,"i":22,"v":1},{"t":51,"i":23,"v":1},{"t":51,"i":24,"v":1},{"t":51,"i":25,"v":1},{"t":51,"i":26,"v":1},{"t":51,"i":27,"v":1},{"t":51,"i":28,"v":1},{"t":51,"i":29,"v":1},{"t":51,"i":30,"v":1},{"t":51,"i":31,"v":1},{"t":51,"i":32,"v":1},{"t":51,"i":33,"v":1},{"t":51,"i":34,"v":1},{"t":51,"i":35,"v":1},{"t":51,"i":36,"v":1},{"t":51,"i":37,"v":1},{"t":51,"i":38,"v":1},{"t":51,"i":39,"v":1},{"t":51,"i":40,"v":1},{"t":51,"i":41,"v":1},{"t":51,"i":42,"v":1},{"t":51,"i":43,"v":1},{"t":51,"i":44,"v":1},{"t":51,"i":45,"v":1},{"t":51,"i":46,"v":1},{"t":51,"i":47,"v":1},{"t":51,"i":48,"v":1},{"t":51,"i":49,"v":1},{"t":51,"i":50,"v":1},{"t":51,"i":51,"v":1},
{"t":52,"i":1,"v":0.87},{"t":52,"i":2,"v":0.93},{"t":52,"i":3,"v":0.87},{"t":52,"i":4,"v":1},{"t":52,"i":5,"v":0.93},{"t":52,"i":6,"v":1},{"t":52,"i":7,"v":1},{"t":52,"i":8,"v":0.93},{"t":52,"i":9,"v":1},{"t":52,"i":10,"v":1},{"t":52,"i":11,"v":1},{"t":52,"i":12,"v":1},{"t":52,"i":13,"v":1},{"t":52,"i":14,"v":1},{"t":52,"i":15,"v":1},{"t":52,"i":16,"v":1},{"t":52,"i":17,"v":1},{"t":52,"i":18,"v":1},{"t":52,"i":19,"v":1},{"t":52,"i":20,"v":1},{"t":52,"i":21,"v":1},{"t":52,"i":22,"v":1},{"t":52,"i":23,"v":1},{"t":52,"i":24,"v":1},{"t":52,"i":25,"v":1},{"t":52,"i":26,"v":1},{"t":52,"i":27,"v":1},{"t":52,"i":28,"v":1},{"t":52,"i":29,"v":1},{"t":52,"i":30,"v":1},{"t":52,"i":31,"v":1},{"t":52,"i":32,"v":1},{"t":52,"i":33,"v":1},{"t":52,"i":34,"v":1},{"t":52,"i":35,"v":1},{"t":52,"i":36,"v":1},{"t":52,"i":37,"v":1},{"t":52,"i":38,"v":1},{"t":52,"i":39,"v":1},{"t":52,"i":40,"v":1},{"t":52,"i":41,"v":1},{"t":52,"i":42,"v":1},{"t":52,"i":43,"v":1},{"t":52,"i":44,"v":1},{"t":52,"i":45,"v":1},{"t":52,"i":46,"v":1},{"t":52,"i":47,"v":1},{"t":52,"i":48,"v":1},{"t":52,"i":49,"v":1},{"t":52,"i":50,"v":1},{"t":52,"i":51,"v":1},{"t":52,"i":52,"v":1},
{"t":53,"i":1,"v":0.82},{"t":53,"i":2,"v":0.87},{"t":53,"i":3,"v":0.93},{"t":53,"i":4,"v":0.87},{"t":53,"i":5,"v":1},{"t":53,"i":6,"v":0.93},{"t":53,"i":7,"v":0.87},{"t":53,"i":8,"v":1},{"t":53,"i":9,"v":1},{"t":53,"i":10,"v":0.93},{"t":53,"i":11,"v":1},{"t":53,"i":12,"v":1},{"t":53,"i":13,"v":1},{"t":53,"i":14,"v":1},{"t":53,"i":15,"v":1},{"t":53,"i":16,"v":1},{"t":53,"i":17,"v":1},{"t":53,"i":18,"v":1},{"t":53,"i":19,"v":1},{"t":53,"i":20,"v":1},{"t":53,"i":21,"v":1},{"t":53,"i":22,"v":1},{"t":53,"i":23,"v":1},{"t":53,"i":24,"v":1},{"t":53,"i":25,"v":1},{"t":53,"i":26,"v":1},{"t":53,"i":27,"v":1},{"t":53,"i":28,"v":1},{"t":53,"i":29,"v":1},{"t":53,"i":30,"v":1},{"t":53,"i":31,"v":1},{"t":53,"i":32,"v":1},{"t":53,"i":33,"v":1},{"t":53,"i":34,"v":1},{"t":53,"i":35,"v":1},{"t":53,"i":36,"v":1},{"t":53,"i":37,"v":1},{"t":53,"i":38,"v":1},{"t":53,"i":39,"v":1},{"t":53,"i":40,"v":1},{"t":53,"i":41,"v":1},{"t":53,"i":42,"v":1},{"t":53,"i":43,"v":1},{"t":53,"i":44,"v":1},{"t":53,"i":45,"v":1},{"t":53,"i":46,"v":1},{"t":53,"i":47,"v":1},{"t":53,"i":48,"v":1},{"t":53,"i":49,"v":1},{"t":53,"i":50,"v":1},{"t":53,"i":51,"v":1},{"t":53,"i":52,"v":1},{"t":53,"i":53,"v":1},
{"t":54,"i":1,"v":0.87},{"t":54,"i":2,"v":0.82},{"t":54,"i":3,"v":0.87},{"t":54,"i":4,"v":0.93},{"t":54,"i":5,"v":0.93},{"t":54,"i":6,"v":1},{"t":54,"i":7,"v":0.93},{"t":54,"i":8,"v":1},{"t":54,"i":9,"v":0.93},{"t":54,"i":10,"v":1},{"t":54,"i":11,"v":1},{"t":54,"i":12,"v":0.93},{"t":54,"i":13,"v":1},{"t":54,"i":14,"v":1},{"t":54,"i":15,"v":1},{"t":54,"i":16,"v":1},{"t":54,"i":17,"v":1},{"t":54,"i":18,"v":1},{"t":54,"i":19,"v":1},{"t":54,"i":20,"v":1},{"t":54,"i":21,"v":1},{"t":54,"i":22,"v":1},{"t":54,"i":23,"v":1},{"t":54,"i":24,"v":1},{"t":54,"i":25,"v":1},{"t":54,"i":26,"v":1},{"t":54,"i":27,"v":1},{"t":54,"i":28,"v":1},{"t":54,"i":29,"v":1},{"t":54,"i":30,"v":1},{"t":54,"i":31,"v":1},{"t":54,"i":32,"v":1},{"t":54,"i":33,"v":1},{"t":54,"i":34,"v":1},{"t":54,"i":35,"v":1},{"t":54,"i":36,"v":1},{"t":54,"i":37,"v":1},{"t":54,"i":38,"v":1},{"t":54,"i":39,"v":1},{"t":54,"i":40,"v":1},{"t":54,"i":41,"v":1},{"t":54,"i":42,"v":1},{"t":54,"i":43,"v":1},{"t":54,"i":44,"v":1},{"t":54,"i":45,"v":1},{"t":54,"i":46,"v":1},{"t":54,"i":47,"v":1},{"t":54,"i":48,"v":1},{"t":54,"i":49,"v":1},{"t":54,"i":50,"v":1},{"t":54,"i":51,"v":1},{"t":54,"i":52,"v":1},{"t":54,"i":53,"v":1},{"t":54,"i":54,"v":1},
{"t":55,"i":1,"v":0.82},{"t":55,"i":2,"v":0.87},{"t":55,"i":3,"v":0.82},{"t":55,"i":4,"v":1},{"t":55,"i":5,"v":0.87},{"t":55,"i":6,"v":0.93},{"t":55,"i":7,"v":1},{"t":55,"i":8,"v":0.93},{"t":55,"i":9,"v":1},{"t":55,"i":10,"v":0.93},{"t":55,"i":11,"v":1},{"t":55,"i":12,"v":1},{"t":55,"i":13,"v":1},{"t":55,"i":14,"v":1},{"t":55,"i":15,"v":1},{"t":55,"i":16,"v":1},{"t":55,"i":17,"v":1},{"t":55,"i":18,"v":1},{"t":55,"i":19,"v":1},{"t":55,"i":20,"v":1},{"t":55,"i":21,"v":1},{"t":55,"i":22,"v":1},{"t":55,"i":23,"v":1},{"t":55,"i":24,"v":1},{"t":55,"i":25,"v":1},{"t":55,"i":26,"v":1},{"t":55,"i":27,"v":1},{"t":55,"i":28,"v":1},{"t":55,"i":29,"v":1},{"t":55,"i":30,"v":1},{"t":55,"i":31,"v":1},{"t":55,"i":32,"v":1},{"t":55,"i":33,"v":1},{"t":55,"i":34,"v":1},{"t":55,"i":35,"v":1},{"t":55,"i":36,"v":1},{"t":55,"i":37,"v":1},{"t":55,"i":38,"v":1},{"t":55,"i":39,"v":1},{"t":55,"i":40,"v":1},{"t":55,"i":41,"v":1},{"t":55,"i":42,"v":1},{"t":55,"i":43,"v":1},{"t":55,"i":44,"v":1},{"t":55,"i":45,"v":1},{"t":55,"i":46,"v":1},{"t":55,"i":47,"v":1},{"t":55,"i":48,"v":1},{"t":55,"i":49,"v":1},{"t":55,"i":50,"v":1},{"t":55,"i":51,"v":1},{"t":55,"i":52,"v":1},{"t":55,"i":53,"v":1},{"t":55,"i":54,"v":1},{"t":55,"i":55,"v":1},
{"t":56,"i":1,"v":0.87},{"t":56,"i":2,"v":0.93},{"t":56,"i":3,"v":0.87},{"t":56,"i":4,"v":0.82},{"t":56,"i":5,"v":0.93},{"t":56,"i":6,"v":0.87},{"t":56,"i":7,"v":1},{"t":56,"i":8,"v":1},{"t":56,"i":9,"v":0.93},{"t":56,"i":10,"v":1},{"t":56,"i":11,"v":0.93},{"t":56,"i":12,"v":1},{"t":56,"i":13,"v":0.93},{"t":56,"i":14,"v":1},{"t":56,"i":15,"v":1},{"t":56,"i":16,"v":1},{"t":56,"i":17,"v":1},{"t":56,"i":18,"v":1},{"t":56,"i":19,"v":1},{"t":56,"i":20,"v":1},{"t":56,"i":21,"v":1},{"t":56,"i":22,"v":1},{"t":56,"i":23,"v":1},{"t":56,"i":24,"v":1},{"t":56,"i":25,"v":1},{"t":56,"i":26,"v":1},{"t":56,"i":27,"v":1},{"t":56,"i":28,"v":1},{"t":56,"i":29,"v":1},{"t":56,"i":30,"v":1},{"t":56,"i":31,"v":1},{"t":56,"i":32,"v":1},{"t":56,"i":33,"v":1},{"t":56,"i":34,"v":1},{"t":56,"i":35,"v":1},{"t":56,"i":36,"v":1},{"t":56,"i":37,"v":1},{"t":56,"i":38,"v":1},{"t":56,"i":39,"v":1},{"t":56,"i":40,"v":1},{"t":56,"i":41,"v":1},{"t":56,"i":42,"v":1},{"t":56,"i":43,"v":1},{"t":56,"i":44,"v":1},{"t":56,"i":45,"v":1},{"t":56,"i":46,"v":1},{"t":56,"i":47,"v":1},{"t":56,"i":48,"v":1},{"t":56,"i":49,"v":1},{"t":56,"i":50,"v":1},{"t":56,"i":51,"v":1},{"t":56,"i":52,"v":1},{"t":56,"i":53,"v":1},{"t":56,"i":54,"v":1},{"t":56,"i":55,"v":1},{"t":56,"i":56,"v":1},
{"t":57,"i":1,"v":0.82},{"t":57,"i":2,"v":0.87},{"t":57,"i":3,"v":0.93},{"t":57,"i":4,"v":0.87},{"t":57,"i":5,"v":0.87},{"t":57,"i":6,"v":1},{"t":57,"i":7,"v":0.93},{"t":57,"i":8,"v":0.87},{"t":57,"i":9,"v":1},{"t":57,"i":10,"v":0.93},{"t":57,"i":11,"v":1},{"t":57,"i":12,"v":0.93},{"t":57,"i":13,"v":1},{"t":57,"i":14,"v":1},{"t":57,"i":15,"v":1},{"t":57,"i":16,"v":1},{"t":57,"i":17,"v":1},{"t":57,"i":18,"v":1},{"t":57,"i":19,"v":1},{"t":57,"i":20,"v":1},{"t":57,"i":21,"v":1},{"t":57,"i":22,"v":1},{"t":57,"i":23,"v":1},{"t":57,"i":24,"v":1},{"t":57,"i":25,"v":1},{"t":57,"i":26,"v":1},{"t":57,"i":27,"v":1},{"t":57,"i":28,"v":1},{"t":57,"i":29,"v":1},{"t":57,"i":30,"v":1},{"t":57,"i":31,"v":1},{"t":57,"i":32,"v":1},{"t":57,"i":33,"v":1},{"t":57,"i":34,"v":1},{"t":57,"i":35,"v":1},{"t":57,"i":36,"v":1},{"t":57,"i":37,"v":1},{"t":57,"i":38,"v":1},{"t":57,"i":39,"v":1},{"t":57,"i":40,"v":1},{"t":57,"i":41,"v":1},{"t":57,"i":42,"v":1},{"t":57,"i":43,"v":1},{"t":57,"i":44,"v":1},{"t":57,"i":45,"v":1},{"t":57,"i":46,"v":1},{"t":57,"i":47,"v":1},{"t":57,"i":48,"v":1},{"t":57,"i":49,"v":1},{"t":57,"i":50,"v":1},{"t":57,"i":51,"v":1},{"t":57,"i":52,"v":1},{"t":57,"i":53,"v":1},{"t":57,"i":54,"v":1},{"t":57,"i":55,"v":1},{"t":57,"i":56,"v":1},{"t":57,"i":57,"v":1},
{"t":58,"i":1,"v":0.87},{"t":58,"i":2,"v":0.82},{"t":58,"i":3,"v":0.87},{"t":58,"i":4,"v":0.93},{"t":58,"i":5,"v":1},{"t":58,"i":6,"v":0.87},{"t":58,"i":7,"v":0.93},{"t":58,"i":8,"v":1},{"t":58,"i":9,"v":0.87},{"t":58,"i":10,"v":0.93},{"t":58,"i":11,"v":1},{"t":58,"i":12,"v":1},{"t":58,"i":13,"v":0.93},{"t":58,"i":14,"v":1},{"t":58,"i":15,"v":1},{"t":58,"i":16,"v":1},{"t":58,"i":17,"v":1},{"t":58,"i":18,"v":1},{"t":58,"i":19,"v":1},{"t":58,"i":20,"v":1},{"t":58,"i":21,"v":1},{"t":58,"i":22,"v":1},{"t":58,"i":23,"v":1},{"t":58,"i":24,"v":1},{"t":58,"i":25,"v":1},{"t":58,"i":26,"v":1},{"t":58,"i":27,"v":1},{"t":58,"i":28,"v":1},{"t":58,"i":29,"v":1},{"t":58,"i":30,"v":1},{"t":58,"i":31,"v":1},{"t":58,"i":32,"v":1},{"t":58,"i":33,"v":1},{"t":58,"i":34,"v":1},{"t":58,"i":35,"v":1},{"t":58,"i":36,"v":1},{"t":58,"i":37,"v":1},{"t":58,"i":38,"v":1},{"t":58,"i":39,"v":1},{"t":58,"i":40,"v":1},{"t":58,"i":41,"v":1},{"t":58,"i":42,"v":1},{"t":58,"i":43,"v":1},{"t":58,"i":44,"v":1},{"t":58,"i":45,"v":1},{"t":58,"i":46,"v":1},{"t":58,"i":47,"v":1},{"t":58,"i":48,"v":1},{"t":58,"i":49,"v":1},{"t":58,"i":50,"v":1},{"t":58,"i":51,"v":1},{"t":58,"i":52,"v":1},{"t":58,"i":53,"v":1},{"t":58,"i":54,"v":1},{"t":58,"i":55,"v":1},{"t":58,"i":56,"v":1},{"t":58,"i":57,"v":1},{"t":58,"i":58,"v":1},
{"t":59,"i":1,"v":0.82},{"t":59,"i":2,"v":0.87},{"t":59,"i":3,"v":0.93},{"t":59,"i":4,"v":0.87},{"t":59,"i":5,"v":0.93},{"t":59,"i":6,"v":0.93},{"t":59,"i":7,"v":0.87},{"t":59,"i":8,"v":0.93},{"t":59,"i":9,"v":1},{"t":59,"i":10,"v":0.93},{"t":59,"i":11,"v":0.93},{"t":59,"i":12,"v":1},{"t":59,"i":13,"v":1},{"t":59,"i":14,"v":0.93},{"t":59,"i":15,"v":1},{"t":59,"i":16,"v":1},{"t":59,"i":17,"v":1},{"t":59,"i":18,"v":1},{"t":59,"i":19,"v":1},{"t":59,"i":20,"v":1},{"t":59,"i":21,"v":1},{"t":59,"i":22,"v":1},{"t":59,"i":23,"v":1},{"t":59,"i":24,"v":1},{"t":59,"i":25,"v":1},{"t":59,"i":26,"v":1},{"t":59,"i":27,"v":1},{"t":59,"i":28,"v":1},{"t":59,"i":29,"v":1},{"t":59,"i":30,"v":1},{"t":59,"i":31,"v":1},{"t":59,"i":32,"v":1},{"t":59,"i":33,"v":1},{"t":59,"i":34,"v":1},{"t":59,"i":35,"v":1},{"t":59,"i":36,"v":1},{"t":59,"i":37,"v":1},{"t":59,"i":38,"v":1},{"t":59,"i":39,"v":1},{"t":59,"i":40,"v":1},{"t":59,"i":41,"v":1},{"t":59,"i":42,"v":1},{"t":59,"i":43,"v":1},{"t":59,"i":44,"v":1},{"t":59,"i":45,"v":1},{"t":59,"i":46,"v":1},{"t":59,"i":47,"v":1},{"t":59,"i":48,"v":1},{"t":59,"i":49,"v":1},{"t":59,"i":50,"v":1},{"t":59,"i":51,"v":1},{"t":59,"i":52,"v":1},{"t":59,"i":53,"v":1},{"t":59,"i":54,"v":1},{"t":59,"i":55,"v":1},{"t":59,"i":56,"v":1},{"t":59,"i":57,"v":1},{"t":59,"i":58,"v":1},{"t":59,"i":59,"v":1},
{"t":60,"i":1,"v":0.82},{"t":60,"i":2,"v":0.87},{"t":60,"i":3,"v":0.82},{"t":60,"i":4,"v":0.87},{"t":60,"i":5,"v":0.87},{"t":60,"i":6,"v":0.93},{"t":60,"i":7,"v":0.87},{"t":60,"i":8,"v":0.87},{"t":60,"i":9,"v":0.93},{"t":60,"i":10,"v":0.87},{"t":60,"i":11,"v":0.93},{"t":60,"i":12,"v":0.93},{"t":60,"i":13,"v":0.93},{"t":60,"i":14,"v":1},{"t":60,"i":15,"v":1},{"t":60,"i":16,"v":1},{"t":60,"i":17,"v":1},{"t":60,"i":18,"v":1},{"t":60,"i":19,"v":1},{"t":60,"i":20,"v":1},{"t":60,"i":21,"v":1},{"t":60,"i":22,"v":1},{"t":60,"i":23,"v":1},{"t":60,"i":24,"v":1},{"t":60,"i":25,"v":1},{"t":60,"i":26,"v":1},{"t":60,"i":27,"v":1},{"t":60,"i":28,"v":1},{"t":60,"i":29,"v":1},{"t":60,"i":30,"v":1},{"t":60,"i":31,"v":1},{"t":60,"i":32,"v":1},{"t":60,"i":33,"v":1},{"t":60,"i":34,"v":1},{"t":60,"i":35,"v":1},{"t":60,"i":36,"v":1},{"t":60,"i":37,"v":1},{"t":60,"i":38,"v":1},{"t":60,"i":39,"v":1},{"t":60,"i":40,"v":1},{"t":60,"i":41,"v":1},{"t":60,"i":42,"v":1},{"t":60,"i":43,"v":1},{"t":60,"i":44,"v":1},{"t":60,"i":45,"v":1},{"t":60,"i":46,"v":1},{"t":60,"i":47,"v":1},{"t":60,"i":48,"v":1},{"t":60,"i":49,"v":1},{"t":60,"i":50,"v":1},{"t":60,"i":51,"v":1},{"t":60,"i":52,"v":1},{"t":60,"i":53,"v":1},{"t":60,"i":54,"v":1},{"t":60,"i":55,"v":1},{"t":60,"i":56,"v":1},{"t":60,"i":57,"v":1},{"t":60,"i":58,"v":1},{"t":60,"i":59,"v":1},{"t":60,"i":60,"v":1}
]},
"mark": {"type": "rect", "stroke": "white", "strokeWidth": 1},
"encoding": {
 "x": {"field": "i", "type": "ordinal", "scale": {"paddingInner": 0, "paddingOuter": 0},
  "axis": {"values": [1, 15, 30, 45, 60], "labelAngle": -90, "labelExpr": "datum.value == 1 ? '1st' : datum.value + 'th'", "title": "Index of chunk with needle", "labelPadding": 3, "titlePadding": 6}},
 "y": {"field": "t", "type": "ordinal", "scale": {"paddingInner": 0, "paddingOuter": 0},
  "axis": {"values": [1, 15, 30, 45, 60], "labelAngle": 0, "title": "Total number of chunks", "labelPadding": 3, "titlePadding": 10}},
 "color": {"field": "v", "type": "quantitative",
  "scale": {"domain": [0, 0.3333, 0.6667, 1], "range": ["#ff0000", "#ffff00", "#00ff00", "#6a9a3a"], "interpolate": "rgb"},
  "legend": {"orient": "none", "legendX": 490, "legendY": 0, "direction": "vertical", "gradientLength": 418, "gradientThickness": 16, "values": [0, 0.2, 0.4, 0.6, 0.8, 1.0], "labelExpr": "'- ' + format(datum.value, '.1f')", "title": null, "labelOffset": 3, "gradientStrokeWidth": 0}}
}
}
